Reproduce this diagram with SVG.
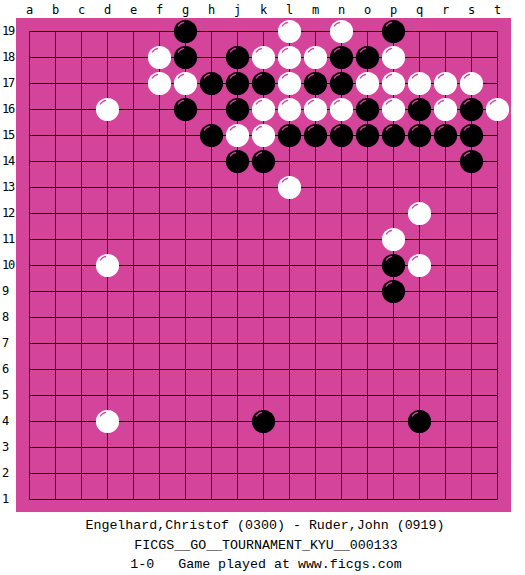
<svg xmlns="http://www.w3.org/2000/svg" width="525" height="575" viewBox="0 0 525 575">
<style>
.lbl{font-family:"DejaVu Sans Mono","Liberation Mono",monospace;font-size:12px;fill:#000}
.rn{letter-spacing:-1.2px}
.cap{font-family:"Liberation Mono","DejaVu Sans Mono",monospace;font-size:13.3px;fill:#000}
.grid{stroke:#000;stroke-width:1;fill:none}
.hl{fill:none;stroke:#D4449A;stroke-width:1.2}
</style>
<defs>
<g id="b"><circle r="11.6" fill="#000"/><path class="hl" d="M-7.5,-5 A9,9 0 0 1 -1.5,-9.2"/></g>
<g id="w"><circle r="11.6" fill="#fff"/><path class="hl" d="M-7.5,-5 A9,9 0 0 1 -1.5,-9.2"/></g>
</defs>
<rect width="525" height="575" fill="#fff"/>
<rect id="board" x="16" y="18" width="495" height="494" fill="#D4449A"/>
<g id="coords" class="lbl" text-anchor="middle">
<text x="29.5" y="14">a</text><text x="55.5" y="14">b</text><text x="81.5" y="14">c</text><text x="107.5" y="14">d</text><text x="133.5" y="14">e</text><text x="159.5" y="14">f</text><text x="185.5" y="14">g</text><text x="211.5" y="14">h</text><text x="237.5" y="14">j</text><text x="263.5" y="14">k</text><text x="289.5" y="14">l</text><text x="315.5" y="14">m</text><text x="341.5" y="14">n</text><text x="367.5" y="14">o</text><text x="393.5" y="14">p</text><text x="419.5" y="14">q</text><text x="445.5" y="14">r</text><text x="471.5" y="14">s</text><text x="497.5" y="14">t</text>
</g>
<g id="rows" class="lbl rn">
<text x="2" y="35">19</text><text x="2" y="61">18</text><text x="2" y="87">17</text><text x="2" y="113">16</text><text x="2" y="139">15</text><text x="2" y="165">14</text><text x="2" y="191">13</text><text x="2" y="217">12</text><text x="2" y="243">11</text><text x="2" y="269">10</text><text x="2" y="295">9</text><text x="2" y="321">8</text><text x="2" y="347">7</text><text x="2" y="373">6</text><text x="2" y="399">5</text><text x="2" y="425">4</text><text x="2" y="451">3</text><text x="2" y="477">2</text><text x="2" y="503">1</text>
</g>
<path id="grid" class="grid" d="M29.5,31.5V499.5M55.5,31.5V499.5M81.5,31.5V499.5M107.5,31.5V499.5M133.5,31.5V499.5M159.5,31.5V499.5M185.5,31.5V499.5M211.5,31.5V499.5M237.5,31.5V499.5M263.5,31.5V499.5M289.5,31.5V499.5M315.5,31.5V499.5M341.5,31.5V499.5M367.5,31.5V499.5M393.5,31.5V499.5M419.5,31.5V499.5M445.5,31.5V499.5M471.5,31.5V499.5M497.5,31.5V499.5M29.5,31.5H497.5M29.5,57.5H497.5M29.5,83.5H497.5M29.5,109.5H497.5M29.5,135.5H497.5M29.5,161.5H497.5M29.5,187.5H497.5M29.5,213.5H497.5M29.5,239.5H497.5M29.5,265.5H497.5M29.5,291.5H497.5M29.5,317.5H497.5M29.5,343.5H497.5M29.5,369.5H497.5M29.5,395.5H497.5M29.5,421.5H497.5M29.5,447.5H497.5M29.5,473.5H497.5M29.5,499.5H497.5"/>
<g id="stones">
<use href="#b" x="185.5" y="31.5"/><use href="#w" x="289.5" y="31.5"/><use href="#w" x="341.5" y="31.5"/><use href="#b" x="393.5" y="31.5"/>
<use href="#w" x="159.5" y="57.5"/><use href="#b" x="185.5" y="57.5"/><use href="#b" x="237.5" y="57.5"/><use href="#w" x="263.5" y="57.5"/><use href="#w" x="289.5" y="57.5"/><use href="#w" x="315.5" y="57.5"/><use href="#b" x="341.5" y="57.5"/><use href="#b" x="367.5" y="57.5"/><use href="#w" x="393.5" y="57.5"/>
<use href="#w" x="159.5" y="83.5"/><use href="#w" x="185.5" y="83.5"/><use href="#b" x="211.5" y="83.5"/><use href="#b" x="237.5" y="83.5"/><use href="#b" x="263.5" y="83.5"/><use href="#w" x="289.5" y="83.5"/><use href="#b" x="315.5" y="83.5"/><use href="#b" x="341.5" y="83.5"/><use href="#w" x="367.5" y="83.5"/><use href="#w" x="393.5" y="83.5"/><use href="#w" x="419.5" y="83.5"/><use href="#w" x="445.5" y="83.5"/><use href="#w" x="471.5" y="83.5"/>
<use href="#w" x="107.5" y="109.5"/><use href="#b" x="185.5" y="109.5"/><use href="#b" x="237.5" y="109.5"/><use href="#w" x="263.5" y="109.5"/><use href="#w" x="289.5" y="109.5"/><use href="#w" x="315.5" y="109.5"/><use href="#w" x="341.5" y="109.5"/><use href="#b" x="367.5" y="109.5"/><use href="#w" x="393.5" y="109.5"/><use href="#b" x="419.5" y="109.5"/><use href="#w" x="445.5" y="109.5"/><use href="#b" x="471.5" y="109.5"/><use href="#w" x="497.5" y="109.5"/>
<use href="#b" x="211.5" y="135.5"/><use href="#w" x="237.5" y="135.5"/><use href="#w" x="263.5" y="135.5"/><use href="#b" x="289.5" y="135.5"/><use href="#b" x="315.5" y="135.5"/><use href="#b" x="341.5" y="135.5"/><use href="#b" x="367.5" y="135.5"/><use href="#b" x="393.5" y="135.5"/><use href="#b" x="419.5" y="135.5"/><use href="#b" x="445.5" y="135.5"/><use href="#b" x="471.5" y="135.5"/>
<use href="#b" x="237.5" y="161.5"/><use href="#b" x="263.5" y="161.5"/><use href="#b" x="471.5" y="161.5"/>
<use href="#w" x="289.5" y="187.5"/>
<use href="#w" x="419.5" y="213.5"/>
<use href="#w" x="393.5" y="239.5"/>
<use href="#w" x="107.5" y="265.5"/><use href="#b" x="393.5" y="265.5"/><use href="#w" x="419.5" y="265.5"/>
<use href="#b" x="393.5" y="291.5"/>
<use href="#w" x="107.5" y="421.5"/><use href="#b" x="263.5" y="421.5"/><use href="#b" x="419.5" y="421.5"/>
</g>
<g id="caption" class="cap" text-anchor="middle">
<text x="265" y="529">Engelhard,Christof (0300) - Ruder,John (0919)</text>
<text x="266" y="549">FICGS__GO__TOURNAMENT_KYU__000133</text>
<text x="266" y="568" xml:space="preserve">1-0   Game played at www.ficgs.com</text>
</g>
</svg>
